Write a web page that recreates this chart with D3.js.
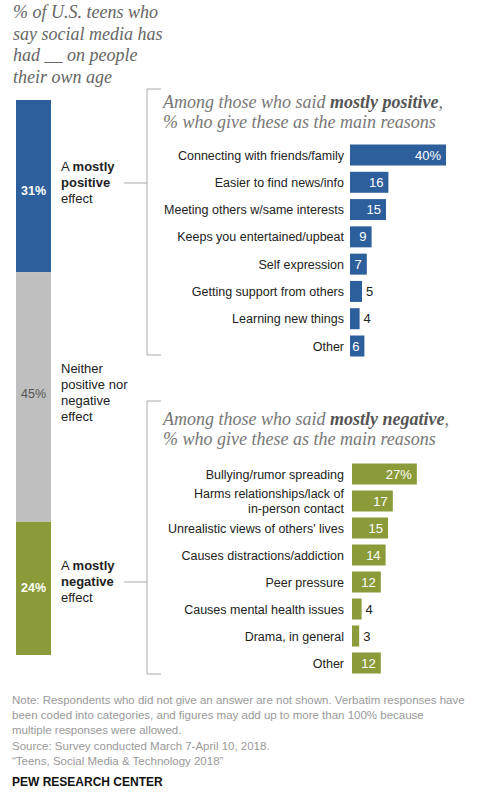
<!DOCTYPE html>
<html>
<head>
<meta charset="utf-8">
<script src="https://cdn.jsdelivr.net/npm/d3@7"></script>
<style>
  body { margin: 0; background: #fff; }
  svg text { font-family: "Liberation Sans", Arial, sans-serif; }
  .serif { font-family: "Liberation Serif", "DejaVu Serif", serif !important; font-style: italic; }
</style>
</head>
<body>
<div id="chart"></div>
<script>

/* DATA */

const effectLabels = ["positive", "neither", "negative"];
const effectValues = [31, 45, 24];

const posReasons = ["Connecting with friends/family", "Easier to find news/info",
  "Meeting others w/same interests", "Keeps you entertained/upbeat", "Self expression",
  "Getting support from others", "Learning new things", "Other"];
const posValues = [40, 16, 15, 9, 7, 5, 4, 6];

const negReasons = ["Bullying/rumor spreading", "Harms relationships/lack of|in-person contact",
  "Unrealistic views of others' lives", "Causes distractions/addiction", "Peer pressure",
  "Causes mental health issues", "Drama, in general", "Other"];
const negValues = [27, 17, 15, 14, 12, 4, 3, 12];

const noteLines = [
  "Note: Respondents who did not give an answer are not shown. Verbatim responses have",
  "been coded into categories, and figures may add up to more than 100% because",
  "multiple responses were allowed.",
  "Source: Survey conducted March 7-April 10, 2018.",
  "\u201cTeens, Social Media & Technology 2018\u201d"
];

/* CONSTANTS */

const width = 500, height = 793;
const blue = "#2d5f9c", green = "#8b9b39", gray = "#bfbfbf";
const effectColors = [blue, gray, green];

const svg = d3.select("#chart").append("svg")
  .attr("width", width)
  .attr("height", height);

// title
svg.append("text")
  .attr("class", "serif")
  .attr("x", 13)
  .attr("fill", "#666")
  .style("font-size", "18px")
  .selectAll("tspan")
  .data(["% of U.S. teens who", "say social media has", "had __ on people", "their own age"])
  .join("tspan")
  .attr("x", 13)
  .attr("y", (_, i) => 18 + i * 21.5)
  .text(d => d);

// STACKED BAR ===========================================
const yStack = d3.scaleLinear().domain([0, 100]).range([100, 655]);
let cum = 0;
const stack = effectValues.map((v, i) => {
  const s = { key: effectLabels[i], v, y0: cum, y1: cum + v, color: effectColors[i] };
  cum += v;
  return s;
});

svg.selectAll("rect.stack")
  .data(stack)
  .join("rect")
  .attr("class", "stack")
  .attr("x", 16)
  .attr("width", 35)
  .attr("y", d => yStack(d.y0))
  .attr("height", d => yStack(d.y1) - yStack(d.y0))
  .attr("fill", d => d.color);

svg.selectAll("text.stackval")
  .data(stack)
  .join("text")
  .attr("class", "stackval")
  .attr("x", 33.5)
  .attr("y", (d, i) => [195, 398, 592][i])
  .attr("text-anchor", "middle")
  .attr("fill", d => d.key === "neither" ? "#555" : "#fff")
  .style("font-size", "12.5px")
  .style("font-weight", d => d.key === "neither" ? "normal" : "bold")
  .text(d => d.v + "%");

// effect labels
const effectText = [
  { y: 171, lines: [["A ", "mostly"], ["", "positive"], ["effect", ""]] },
  { y: 373, lines: [["Neither", ""], ["positive nor", ""], ["negative", ""], ["effect", ""]] },
  { y: 570, lines: [["A ", "mostly"], ["", "negative"], ["effect", ""]] }
];
effectText.forEach(g => {
  g.lines.forEach((ln, i) => {
    const t = svg.append("text")
      .attr("x", 61)
      .attr("y", g.y + i * 16)
      .attr("fill", "#222")
      .style("font-size", "13px");
    t.append("tspan").text(ln[0]);
    t.append("tspan").style("font-weight", "bold").text(ln[1]);
  });
});

// BRACKETS ==============================================
function bracket(yTop, yBot, yMid) {
  const g = svg.append("g")
    .attr("fill", "none")
    .attr("stroke", "#aaa")
    .attr("stroke-width", 1);
  g.append("path").attr("d", `M161,${yTop} H147 V${yBot} H161`);
  g.append("path").attr("d", `M124,${yMid} H147`);
}
bracket(89, 355, 183);
bracket(401, 674, 582);

// REASON BARS ===========================================
const xBar = d3.scaleLinear().domain([0, 40]).range([0, 96]);

function subtitle(y, word) {
  const t = svg.append("text")
    .attr("class", "serif")
    .attr("fill", "#777")
    .style("font-size", "18px");
  const l1 = t.append("tspan").attr("x", 163).attr("y", y);
  l1.append("tspan").text("Among those who said ");
  l1.append("tspan").style("font-weight", "bold").attr("fill", "#555").text("mostly " + word);
  l1.append("tspan").text(",");
  t.append("tspan").attr("x", 163).attr("y", y + 20).text("% who give these as the main reasons");
}

function reasons(labels, values, yRange, x0, color, sub, subY) {
  subtitle(subY, sub);
  const yScale = d3.scalePoint().domain(labels).range(yRange);
  const bh = 21;

  const g = svg.append("g");
  g.selectAll("rect")
    .data(values)
    .join("rect")
    .attr("x", x0)
    .attr("y", (d, i) => yScale(labels[i]) - bh / 2)
    .attr("width", d => xBar(d))
    .attr("height", bh)
    .attr("fill", color);

  // category labels
  g.selectAll("text.cat")
    .data(labels)
    .join("text")
    .attr("class", "cat")
    .attr("text-anchor", "end")
    .attr("fill", "#222")
    .style("font-size", "12.5px")
    .each(function (d) {
      const parts = d.split("|");
      const y = yScale(d);
      d3.select(this).selectAll("tspan")
        .data(parts)
        .join("tspan")
        .attr("x", 344)
        .attr("y", (_, j) => y + 4.5 + (j - (parts.length - 1) / 2) * 15)
        .text(p => p);
    });

  // values
  g.selectAll("text.val")
    .data(values)
    .join("text")
    .attr("class", "val")
    .attr("x", (d, i) => d >= 6 ? x0 + xBar(d) - 5 : x0 + xBar(d) + 4)
    .attr("y", (d, i) => yScale(labels[i]) + 4.5)
    .attr("text-anchor", d => d >= 6 ? "end" : "start")
    .attr("fill", d => d >= 6 ? "#fff" : "#222")
    .style("font-size", "13px")
    .text((d, i) => i === 0 ? d + "%" : d);
}

reasons(posReasons, posValues, [155, 346], 350, blue, "positive", 108);
reasons(negReasons, negValues, [474, 663], 352, green, "negative", 425);

// FOOTER ================================================
svg.append("g")
  .selectAll("text")
  .data(noteLines)
  .join("text")
  .attr("x", 12)
  .attr("y", (_, i) => 704 + i * 15.2)
  .attr("fill", "#999")
  .style("font-size", "11.5px")
  .text(d => d);

svg.append("text")
  .attr("x", 12)
  .attr("y", 786)
  .attr("fill", "#111")
  .style("font-size", "12px")
  .style("font-weight", "bold")
  .text("PEW RESEARCH CENTER");

</script>
</body>
</html>
